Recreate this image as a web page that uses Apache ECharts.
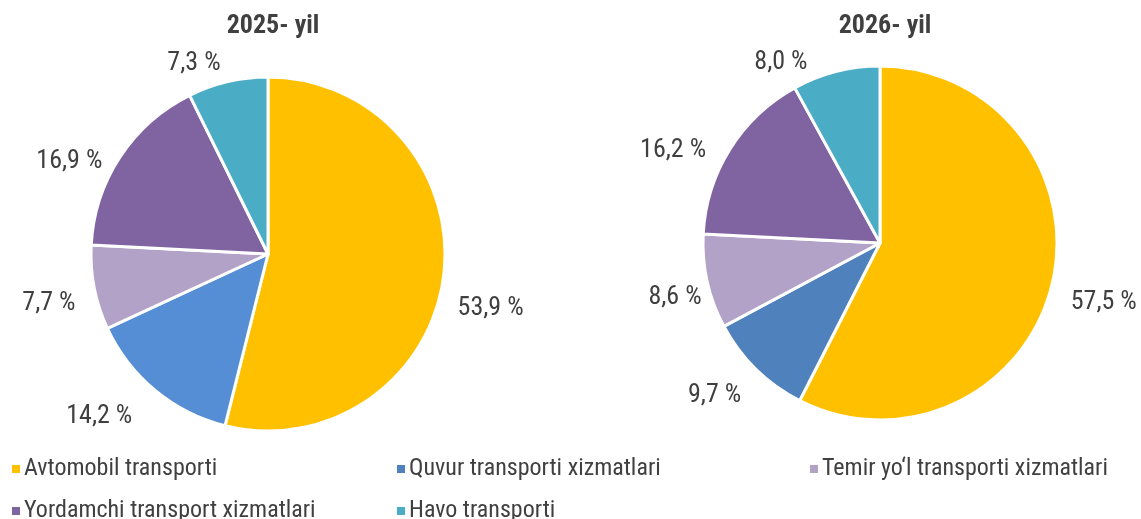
<!DOCTYPE html>
<html>
<head>
<meta charset="utf-8">
<script src="https://cdn.jsdelivr.net/npm/echarts@6/dist/echarts.min.js"></script>
<style>
  html, body { margin: 0; padding: 0; background: #fff; }
  #main { width: 1141px; height: 519px; }
</style>
</head>
<body>
<div id="main"></div>
<script>
var names = ['Avtomobil transporti', 'Quvur transporti xizmatlari', 'Temir yo\u2018l transporti xizmatlari', 'Yordamchi transport xizmatlari', 'Havo transporti'];
var years = ['2025- yil', '2026- yil'];
var values2025 = [53.9, 14.2, 7.7, 16.9, 7.3];
var values2026 = [57.5, 9.7, 8.6, 16.2, 8.0];
var colors2025 = ['#FFC000', '#558ED5', '#B3A2C7', '#8064A2', '#4BACC6'];
var colors2026 = ['#FFC000', '#4F81BD', '#B3A2C7', '#8064A2', '#4BACC6'];

var font = "'Roboto Condensed', 'Liberation Sans Narrow', Roboto, sans-serif";
var textColor = '#404040';

// small nudges so the labels sit where Excel put them
var labelNudge = [
    [[-5, 31], [-9, 15], [0, 13], [-1, 12], [1, -5]],
    [[0, 15], [0, 16], [13, 13], [-7, 9], [-20, 4]]
];

function pieData(vals, cols) {
    return vals.map(function (v, i) {
        return { name: names[i], value: v, itemStyle: { color: cols[i] } };
    });
}

function makePie(vals, cols, cx, cy) {
    return {
        type: 'pie',
        radius: 177,
        center: [cx, cy],
        startAngle: 90,
        clockwise: true,
        animation: false,
        data: pieData(vals, cols),
        itemStyle: { borderColor: '#fff', borderWidth: 3 },
        label: {
            show: true,
            position: 'outside',
            overflow: 'none',
            fontFamily: font,
            fontSize: 26,
            color: textColor,
            formatter: function (p) {
                return p.value.toFixed(1).replace('.', ',') + ' %';
            }
        },
        labelLine: { show: false, length: 14, length2: 0 },
        labelLayout: function (p) {
            var n = labelNudge[p.seriesIndex][p.dataIndex];
            return { dx: n[0], dy: n[1] };
        }
    };
}

// one legend box per entry, laid out in a 3-column grid like the original
var legendCols = [5, 390, 803];
var legendRows = [452, 494];
var legendSlots = [[0, 0], [1, 0], [2, 0], [0, 1], [1, 1]];

var legends = names.map(function (n, i) {
    return {
        left: legendCols[legendSlots[i][0]],
        top: legendRows[legendSlots[i][1]],
        itemWidth: 10,
        itemHeight: 10,
        icon: 'rect',
        selectedMode: false,
        textStyle: { fontFamily: font, fontSize: 24, color: textColor, padding: [0, 0, 0, -2] },
        data: [{ name: n, itemStyle: { color: colors2026[i] } }]
    };
});

var chart = echarts.init(document.getElementById('main'));
chart.setOption({
    backgroundColor: '#fff',
    title: [
        { text: years[0], left: 268, top: 8, textAlign: 'center', textStyle: { fontFamily: font, fontSize: 26, fontWeight: 'bold', color: textColor } },
        { text: years[1], left: 880, top: 8, textAlign: 'center', textStyle: { fontFamily: font, fontSize: 26, fontWeight: 'bold', color: textColor } }
    ],
    legend: legends,
    series: [
        makePie(values2025, colors2025, 268, 254),
        makePie(values2026, colors2026, 880, 243)
    ]
});
</script>
</body>
</html>
